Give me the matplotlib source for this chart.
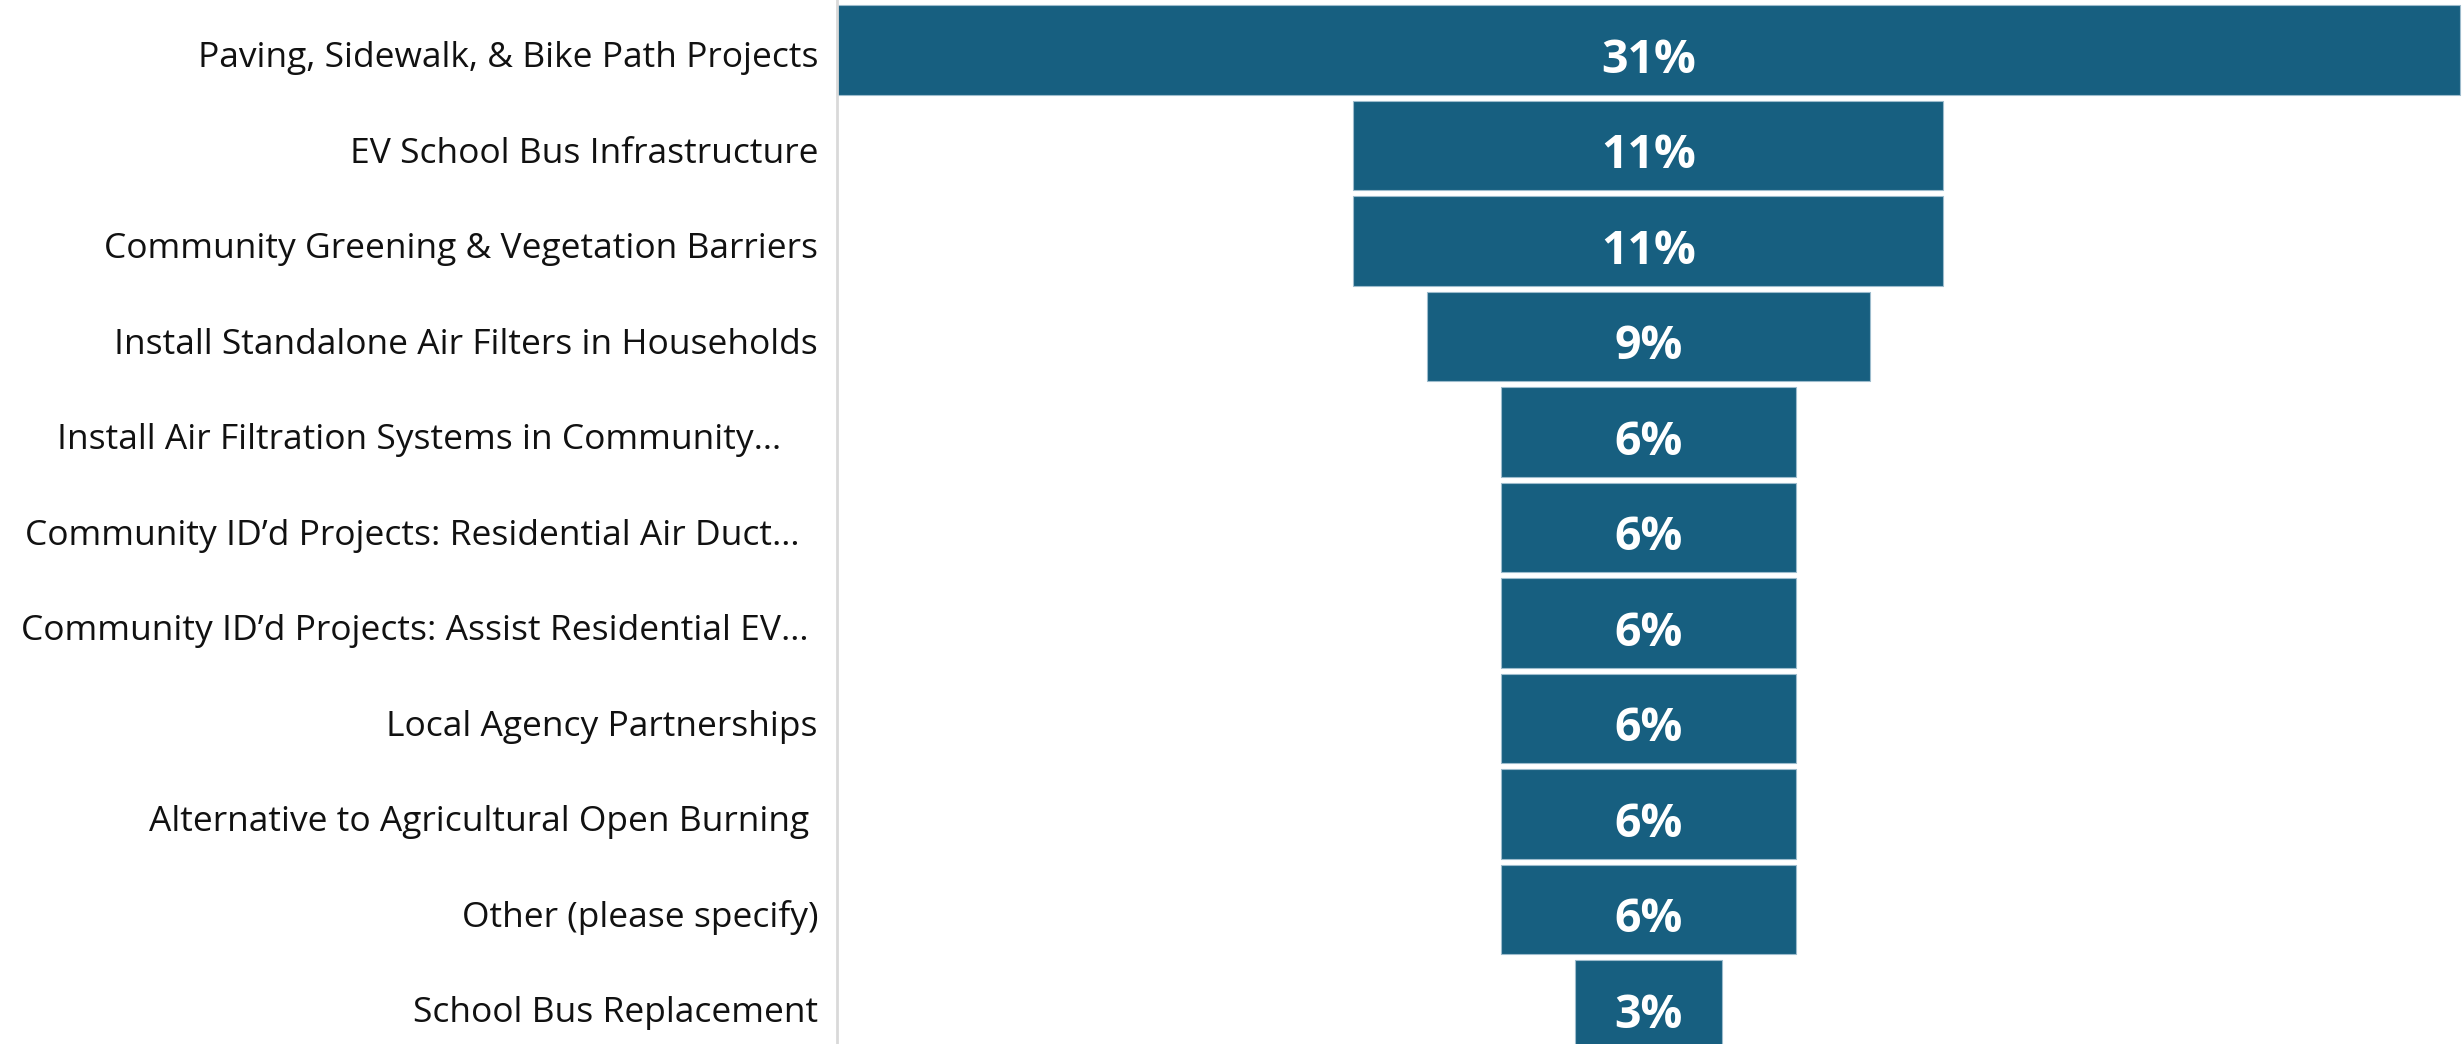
import matplotlib
matplotlib.use("Agg")
import matplotlib.pyplot as plt
import matplotlib.transforms as mtransforms
import numpy as np

categories = [
    "Paving, Sidewalk, & Bike Path Projects",
    "EV School Bus Infrastructure",
    "Community Greening & Vegetation Barriers",
    "Install Standalone Air Filters in Households",
    "Install Air Filtration Systems in Community\u2026    ",
    "Community ID\u2019d Projects: Residential Air Duct\u2026  ",
    "Community ID\u2019d Projects: Assist Residential EV\u2026 ",
    "Local Agency Partnerships",
    "Alternative to Agricultural Open Burning ",
    "Other (please specify)",
    "School Bus Replacement",
]
responses = [11, 4, 4, 3, 2, 2, 2, 2, 2, 2, 1]
percent_labels = ["31%", "11%", "11%", "9%", "6%", "6%", "6%", "6%", "6%", "6%", "3%"]

W, H = 2463, 1044
fig = plt.figure(figsize=(W / 100, H / 100), dpi=100)
ax_left = 837 / W
ax = fig.add_axes([ax_left, 0, 1 - ax_left, 1])

unit_px = 147.5
x0 = -5.5
ax.set_xlim(x0, x0 + (W - 837) / unit_px)
pitch = 95.3
ax.set_ylim(10 + (H - 1005) / pitch, -50 / pitch)

y = np.arange(len(categories))
vals = np.array(responses, dtype=float)
bar_color = "#175f80"
ax.barh(y, vals, left=-vals / 2, height=0.94, color=bar_color,
        edgecolor="#9dbccd", linewidth=0.8)

# value labels (baseline slightly below bar centre, as in reference)
for yi, lab in zip(y, percent_labels):
    ax.text(0, yi + 0.24, lab, ha="center", va="baseline", color="white",
            fontsize=33.5, fontweight="bold", family="Open Sans")

# category labels
trans = mtransforms.blended_transform_factory(ax.transAxes, ax.transData)
pad = mtransforms.ScaledTranslation(-19 / 100, 0, fig.dpi_scale_trans)
for yi, lab in zip(y, categories):
    ax.text(0, yi + 0.18, lab, ha="right", va="baseline", color="#111111",
            fontsize=25.5, family="Open Sans", transform=trans + pad,
            clip_on=False)

ax.set_yticks([])
ax.set_xticks([])
for s in ["top", "right", "bottom"]:
    ax.spines[s].set_visible(False)
ax.spines["left"].set_color("#d9d9d9")
ax.spines["left"].set_linewidth(2)

fig.savefig("out.png", dpi=100, facecolor="white")
